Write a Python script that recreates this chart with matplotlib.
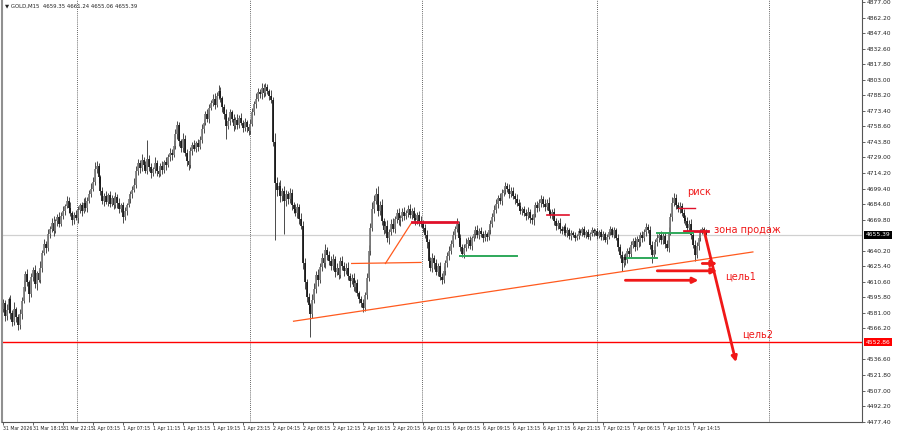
import matplotlib
matplotlib.use("Agg")
import matplotlib.pyplot as plt
import matplotlib.transforms as mtransforms

# GOLD M15 closes, one row = 16 bars (4 hours)
closes = [
    4590, 4578, 4584, 4594, 4581, 4572, 4585, 4577, 4569, 4580, 4592, 4606, 4618, 4610, 4599, 4615,
    4622, 4608, 4619, 4612, 4624, 4638, 4647, 4643, 4656, 4661, 4667, 4659, 4668, 4672, 4666, 4673,
    4678, 4683, 4688, 4681, 4676, 4669, 4674, 4671, 4679, 4684, 4678, 4686, 4681, 4688, 4694, 4699,
    4706, 4718, 4721, 4710, 4697, 4688, 4692, 4687, 4693, 4685, 4690, 4684, 4691, 4686, 4680, 4684,
    4672, 4678, 4684, 4689, 4694, 4698, 4703, 4716, 4724, 4719, 4727, 4722, 4716, 4728, 4720, 4714,
    4718, 4724, 4716, 4713, 4721, 4717, 4725, 4722, 4729, 4733, 4731, 4740, 4751, 4760, 4745, 4738,
    4747, 4733, 4726, 4722, 4735, 4741, 4737, 4743, 4739, 4746, 4756, 4762, 4770, 4766, 4776, 4781,
    4785, 4779, 4788, 4792, 4786, 4777, 4770, 4759, 4764, 4772, 4766, 4759, 4765, 4760, 4767, 4762,
    4757, 4763, 4758, 4754, 4761, 4772, 4780, 4785, 4791, 4789, 4795, 4790, 4796, 4792, 4788, 4784,
    4744, 4705, 4698, 4702, 4692, 4697, 4688, 4694, 4689, 4695, 4684, 4680, 4676, 4682, 4670, 4664,
    4628, 4610, 4596, 4588, 4580, 4593, 4604, 4617, 4612, 4625, 4633, 4628, 4641, 4636, 4630, 4626,
    4632, 4620, 4624, 4617, 4630, 4626, 4621, 4624, 4616, 4611, 4614, 4606, 4609, 4600, 4594, 4590,
    4586, 4598, 4614, 4640, 4662, 4680, 4688, 4694, 4678, 4684, 4668, 4660, 4664, 4652, 4658, 4666,
    4661, 4670, 4676, 4669, 4671, 4677, 4673, 4676, 4680, 4674, 4678, 4671, 4669, 4674, 4668, 4666,
    4662, 4655, 4648, 4630, 4624, 4633, 4628, 4620, 4626, 4615, 4612, 4621, 4628, 4635, 4640, 4647,
    4655, 4661, 4666, 4652, 4644, 4637, 4643, 4647, 4650, 4645, 4652, 4656, 4660, 4655, 4659, 4656,
    4652, 4656, 4653, 4660, 4666, 4672, 4679, 4685, 4690, 4688, 4695, 4698, 4702, 4699, 4694, 4697,
    4692, 4689, 4686, 4683, 4678, 4680, 4676, 4673, 4677, 4671, 4669, 4675, 4684, 4681, 4686, 4689,
    4685, 4682, 4686, 4678, 4674, 4677, 4668, 4664, 4667, 4661, 4659, 4663, 4657, 4660, 4654, 4657,
    4655, 4652, 4654, 4659, 4657, 4661, 4655, 4658, 4653, 4656, 4660, 4657, 4659, 4654, 4658, 4653,
    4656, 4650, 4653, 4658, 4661, 4655, 4660, 4652, 4644, 4636, 4628, 4634, 4631, 4640, 4637, 4646,
    4649, 4644, 4651, 4648, 4655, 4652, 4658, 4663, 4660, 4646, 4636, 4641, 4648, 4652, 4655, 4650,
    4654, 4647, 4643, 4658, 4672, 4686, 4690, 4684, 4680, 4683, 4676, 4671, 4668, 4662, 4666, 4655,
    4646, 4636, 4645, 4652, 4658, 4661, 4659.35, 4655.39,
]
first_open = 4585

# wick lengths above / below the body
wick_up = [
    4, 3, 5, 2, 4, 3, 6, 2, 3, 5, 4, 6, 3, 5, 2, 4,
    3, 5, 2, 4, 6, 3, 4, 2, 5, 3, 4, 6, 2, 3, 5, 4,
    5, 2, 4, 3, 6, 2, 3, 5, 4, 2, 3, 4, 5, 3, 4, 6,
    4, 7, 5, 3, 2, 4, 3, 5, 2, 4, 3, 2, 5, 3, 4, 2,
    3, 4, 2, 5, 3, 4, 6, 5, 4, 3, 5, 2, 4, 18, 3, 4,
    2, 5, 3, 4, 3, 5, 2, 4, 3, 5, 4, 6, 5, 4, 3, 2,
    5, 3, 4, 2, 4, 3, 5, 2, 4, 3, 5, 4, 3, 5, 4, 3,
    4, 5, 3, 6, 4, 2, 3, 5, 4, 3, 2, 4, 3, 5, 2, 4,
    3, 4, 2, 3, 5, 4, 3, 5, 4, 3, 5, 4, 4, 3, 2, 5,
    3, 8, 5, 4, 6, 3, 5, 4, 3, 5, 4, 3, 5, 4, 3, 6,
    4, 5, 3, 4, 2, 6, 5, 4, 6, 3, 5, 4, 6, 3, 4, 5,
    5, 3, 4, 6, 4, 5, 3, 4, 5, 3, 4, 5, 3, 4, 2, 3,
    4, 3, 5, 6, 5, 7, 5, 6, 8, 4, 5, 3, 4, 5, 3, 4,
    5, 3, 4, 5, 3, 4, 5, 3, 4, 5, 3, 4, 5, 3, 4, 5,
    3, 4, 5, 3, 4, 5, 3, 4, 2, 3, 4, 5, 3, 4, 5, 3,
    4, 3, 5, 2, 4, 3, 4, 5, 3, 4, 2, 3, 4, 5, 3, 4,
    3, 4, 2, 5, 3, 4, 5, 4, 3, 5, 4, 3, 4, 3, 5, 4,
    4, 3, 5, 3, 4, 2, 3, 4, 5, 3, 4, 5, 3, 4, 3, 4,
    3, 4, 3, 5, 2, 3, 4, 3, 2, 4, 3, 2, 4, 3, 2, 3,
    2, 3, 2, 3, 2, 2, 3, 2, 3, 2, 3, 2, 2, 3, 2, 3,
    3, 2, 3, 2, 3, 2, 3, 2, 4, 3, 4, 3, 4, 3, 4, 3,
    3, 4, 3, 4, 3, 4, 3, 4, 3, 4, 3, 4, 3, 4, 3, 4,
    3, 4, 3, 5, 4, 5, 5, 4, 3, 4, 3, 4, 3, 4, 3, 4,
    3, 4, 3, 4, 3, 2, 2, 1.89,
]
wick_dn = [
    3, 5, 4, 3, 6, 4, 3, 5, 4, 3, 5, 2, 4, 3, 8, 3,
    4, 3, 5, 2, 3, 4, 2, 5, 3, 4, 3, 5, 2, 4, 3, 2,
    3, 4, 2, 5, 3, 4, 3, 2, 4, 3, 5, 2, 3, 4, 2, 3,
    2, 3, 4, 5, 4, 3, 5, 2, 4, 3, 2, 4, 3, 5, 4, 3,
    5, 3, 4, 2, 3, 4, 2, 3, 4, 5, 3, 4, 2, 3, 4, 5,
    3, 4, 5, 3, 2, 4, 3, 5, 2, 3, 4, 2, 3, 4, 5, 4,
    4, 3, 5, 5, 3, 4, 2, 3, 4, 2, 3, 4, 2, 3, 4, 2,
    3, 4, 2, 3, 4, 5, 4, 12, 3, 4, 3, 5, 3, 4, 3, 2,
    4, 3, 5, 4, 3, 2, 3, 4, 2, 3, 4, 3, 2, 3, 4, 3,
    4, 55, 6, 4, 5, 4, 32, 5, 4, 3, 5, 4, 3, 5, 4, 3,
    5, 6, 5, 4, 22, 4, 3, 4, 5, 3, 4, 3, 4, 5, 3, 4,
    4, 5, 3, 4, 3, 4, 5, 3, 4, 5, 3, 4, 5, 3, 4, 3,
    4, 3, 4, 3, 4, 3, 4, 3, 5, 4, 3, 4, 3, 4, 5, 3,
    3, 4, 3, 4, 5, 3, 4, 3, 4, 3, 4, 3, 4, 3, 4, 3,
    4, 3, 5, 4, 3, 4, 5, 3, 4, 3, 4, 3, 4, 3, 4, 3,
    3, 4, 3, 5, 4, 3, 4, 3, 4, 3, 4, 3, 4, 3, 4, 3,
    4, 3, 4, 3, 4, 3, 4, 3, 4, 3, 4, 3, 4, 3, 4, 3,
    3, 4, 3, 4, 3, 4, 3, 4, 3, 4, 3, 4, 3, 4, 3, 4,
    3, 4, 3, 4, 3, 4, 3, 4, 3, 4, 3, 4, 3, 4, 3, 4,
    2, 3, 2, 3, 2, 3, 2, 3, 2, 3, 2, 3, 2, 3, 2, 3,
    3, 2, 3, 2, 3, 2, 3, 2, 4, 3, 7, 3, 4, 3, 4, 3,
    3, 4, 3, 4, 3, 4, 3, 4, 3, 4, 8, 3, 4, 3, 4, 3,
    3, 4, 3, 4, 3, 4, 3, 4, 3, 4, 3, 4, 3, 4, 3, 4,
    3, 6, 3, 4, 3, 2, 2, 0.33,
]

time_labels = ["31 Mar 2026", "31 Mar 18:15", "31 Mar 22:15", "1 Apr 03:15", "1 Apr 07:15",
               "1 Apr 11:15", "1 Apr 15:15", "1 Apr 19:15", "1 Apr 23:15", "2 Apr 04:15",
               "2 Apr 08:15", "2 Apr 12:15", "2 Apr 16:15", "2 Apr 20:15", "6 Apr 01:15",
               "6 Apr 05:15", "6 Apr 09:15", "6 Apr 13:15", "6 Apr 17:15", "6 Apr 21:15",
               "7 Apr 02:15", "7 Apr 06:15", "7 Apr 10:15", "7 Apr 14:15"]
price_ticks = [4877.00, 4862.20, 4847.40, 4832.60, 4817.80, 4803.00, 4788.20, 4773.40,
               4758.60, 4743.80, 4729.00, 4714.20, 4699.40, 4684.60, 4669.80, 4640.20,
               4625.40, 4610.60, 4595.80, 4581.00, 4566.20, 4536.60, 4521.80, 4507.00,
               4492.20, 4477.40]
day_breaks = [39.5, 131.7, 223.5, 316.8, 408.5]
last_price = 4655.39
level_price = 4552.86
title = "GOLD,M15  4659.35 4661.24 4655.06 4655.39"

# drawn objects: ((bar, price), (bar, price))
orange_lines = [((155, 4573), (400, 4639)), ((186, 4628), (223, 4629)), ((204, 4628), (218, 4667))]
red_levels = [((218, 4667.5), (242, 4667.5), 2.0), ((290, 4674), (302, 4674), 1.2),
              ((360, 4681), (369, 4681), 1.0), ((363, 4659), (376, 4659), 2.0)]
green_levels = [((244, 4635), (274, 4635)), ((333, 4633), (349, 4633)), ((349, 4657), (368, 4657))]
arrows = [((374, 4659), (391, 4534)), ((373, 4628), (381, 4628)),
          ((349, 4621), (381, 4621)), ((332, 4612), (371, 4612))]
notes = [("риск", 365, 4696), ("зона продаж", 379, 4660),
         ("цель1", 385, 4616), ("цель2", 394, 4560)]

RED = "#f01818"

fig = plt.figure(figsize=(9, 4.32), dpi=100)
ax = fig.add_axes([2 / 900, 10 / 432, 860 / 900, 422 / 432])
ax.set_xlim(-0.5, 458.2)
ax.set_ylim(4477.0, 4879.0)

# candles
opens = [first_open] + closes[:-1]
for i, (o, c) in enumerate(zip(opens, closes)):
    top, bot = max(o, c), min(o, c)
    ax.vlines(i, bot - wick_dn[i], top + wick_up[i], color="#4a4a4a", lw=0.7, zorder=3)
    col = "#7c7c7c" if c >= o else "#151515"
    ax.vlines(i, bot, max(top, bot + 0.8), color=col, lw=1.25, zorder=4)

for d in day_breaks:
    ax.axvline(d, color="#333333", lw=0.6, ls=(0, (1, 1.5)), zorder=1)

ax.axhline(last_price, color="#d0d0d0", lw=0.9, zorder=2)
ax.axhline(level_price, color="#ff0000", lw=1.0, zorder=2)

for (x0, y0), (x1, y1) in orange_lines:
    ax.plot([x0, x1], [y0, y1], color="#ff5a1e", lw=0.9, zorder=5)
for (x0, y0), (x1, y1), w in red_levels:
    ax.plot([x0, x1], [y0, y1], color="#e0102a", lw=w, zorder=5)
for (x0, y0), (x1, y1) in green_levels:
    ax.plot([x0, x1], [y0, y1], color="#2ea85a", lw=1.4, zorder=5)
for (x0, y0), (x1, y1) in arrows:
    ax.annotate("", xy=(x1, y1), xytext=(x0, y0),
                arrowprops=dict(arrowstyle="-|>", color=RED, lw=2.0,
                                mutation_scale=8, shrinkA=0, shrinkB=0), zorder=6)
for txt, x, y in notes:
    ax.text(x, y, txt, color=RED, fontsize=7, ha="left", va="center", zorder=7)

# axes styling, MT4 look
ax.yaxis.tick_right()
ax.set_yticks(price_ticks)
ax.set_yticklabels(["%.2f" % p for p in price_ticks])
ax.tick_params(axis="y", labelsize=4.3, length=2, width=0.5, pad=1.5, colors="#222222")
ax.set_xticks(list(range(0, 369, 16)))
ax.set_xticklabels(time_labels, ha="left")
ax.tick_params(axis="x", labelsize=3.3, length=2, width=0.5, pad=1.0, colors="#222222")
ax.spines["top"].set_visible(False)
ax.spines["left"].set_color("#909090")
ax.spines["left"].set_linewidth(1.5)
ax.spines["right"].set_color("#555555")
ax.spines["bottom"].set_color("#555555")
ax.spines["right"].set_linewidth(0.8)
ax.spines["bottom"].set_linewidth(0.8)

trans = mtransforms.blended_transform_factory(ax.transAxes, ax.transData)
ax.text(1.004, last_price, "%.2f" % last_price, transform=trans, fontsize=4.3, color="white",
        ha="left", va="center", bbox=dict(boxstyle="square,pad=0.25", fc="black", ec="none"), zorder=8)
ax.text(1.004, level_price, "%.2f" % level_price, transform=trans, fontsize=4.3, color="white",
        ha="left", va="center", bbox=dict(boxstyle="square,pad=0.25", fc="#ff0000", ec="none"), zorder=8)

ax.text(0.004, 0.993, "\u25bc " + title, transform=ax.transAxes, fontsize=3.9,
        ha="left", va="top", color="#222222")

fig.savefig("out.png", dpi=100)
